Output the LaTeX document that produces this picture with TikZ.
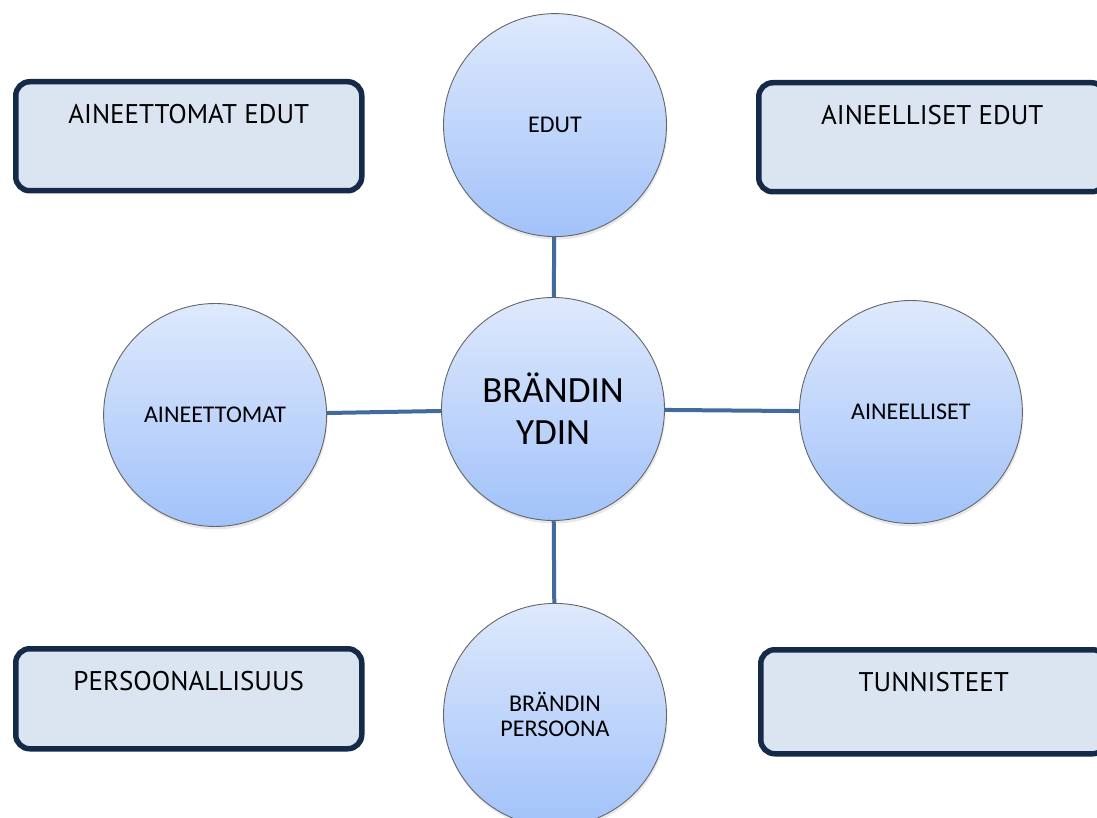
\documentclass[tikz,border=0pt]{standalone}
\usepackage{fontspec}
\setmainfont{Carlito}
\newfontfamily\boxfont{PT Sans}
\usetikzlibrary{positioning, shadows}
\definecolor{ballTop}{RGB}{222,233,252}
\definecolor{ballBottom}{RGB}{162,194,250}
\definecolor{linkBlue}{RGB}{66,106,156}
\definecolor{boxFill}{RGB}{219,229,241}
\definecolor{boxLine}{RGB}{20,42,72}
\tikzset{ball/.style={circle, draw=gray!80!black, line width=0.9pt, top color=ballTop, bottom color=ballBottom, minimum size=223pt, inner sep=0pt, align=center, font=\fontsize{24}{25}\selectfont, drop shadow={opacity=0.18, shadow xshift=1pt, shadow yshift=-3pt}}}
\tikzset{core/.style={ball, font=\fontsize{37}{42}\selectfont}}
\tikzset{infobox/.style={draw=boxLine, line width=5.5pt, fill=boxFill, rounded corners=14pt, inner sep=0pt, minimum width=346pt, text height=42pt, anchor=north west, font=\boxfont\fontsize{27}{30}\selectfont}}
\tikzset{link/.style={draw=linkBlue, line width=4pt}}

\begin{document}
\begin{tikzpicture}[x=1pt, y=-1pt]
\useasboundingbox (0,0) rectangle (1097,818);
\node[core] (ydin) at (553,409) {BRÄNDIN\\YDIN};
\node[ball, above=60pt of ydin, xshift=2pt] (edut) {EDUT};
\node[ball, left=114pt of ydin, yshift=-6pt] (aineettomat) {AINEETTOMAT};
\node[ball, right=134pt of ydin, yshift=-3pt] (aineelliset) {AINEELLISET};
\node[ball, below=82pt of ydin, xshift=2pt] (persoona) {BRÄNDIN\\PERSOONA};

\node[infobox, text depth=67pt] (aedut) at (13,79) {AINEETTOMAT EDUT};
\node[infobox, text depth=67pt, minimum width=347pt] (medut) at (756,80) {AINEELLISET EDUT};
\node[infobox, text depth=58pt] (persoonallisuus) at (13,646) {PERSOONALLISUUS};
\node[infobox, text depth=62pt] (tunnisteet) at (758,647) {TUNNISTEET};

\draw[link] (ydin) -- (edut);
\draw[link] (ydin) -- (aineettomat);
\draw[link] (ydin) -- (aineelliset);
\draw[link] (ydin) -- (persoona);
\end{tikzpicture}
\end{document}
